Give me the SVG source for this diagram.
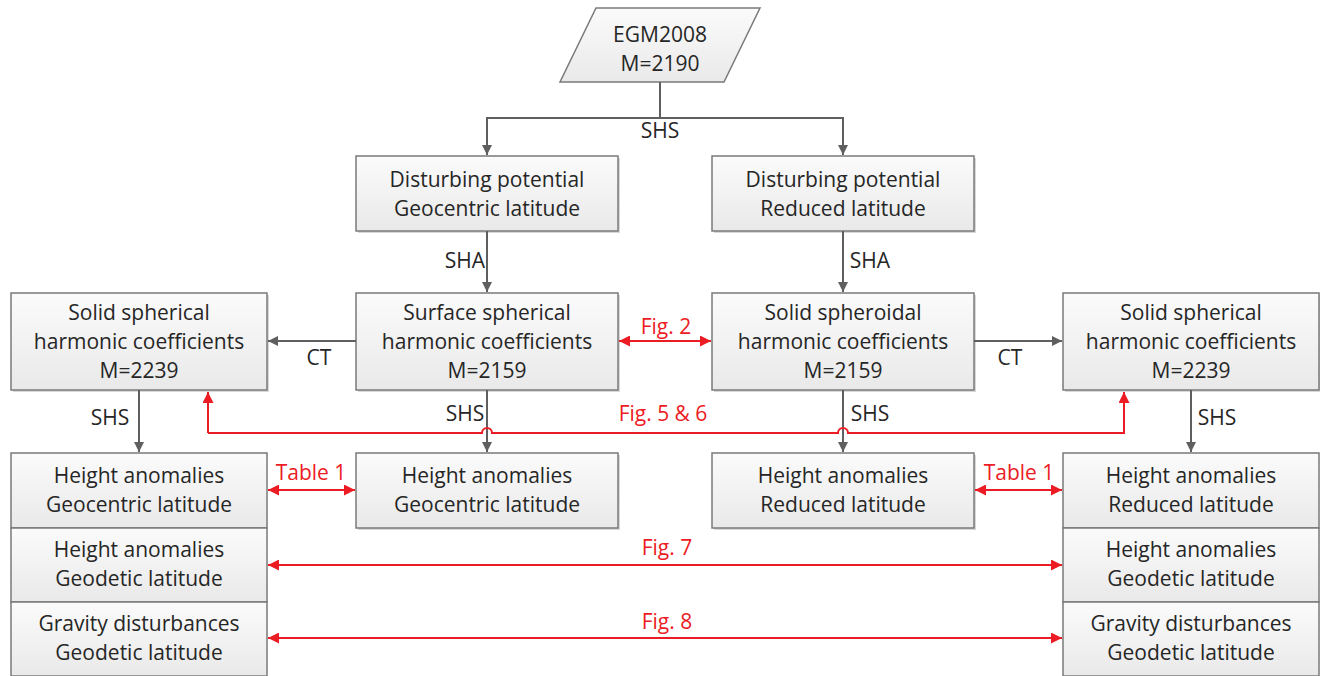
<svg xmlns="http://www.w3.org/2000/svg" width="1320" height="676" viewBox="0 0 1320 676">
<defs>
<linearGradient id="g" x1="0" y1="0" x2="0" y2="1">
<stop offset="0" stop-color="#fbfbfb"/>
<stop offset="1" stop-color="#e9e9e9"/>
</linearGradient>
<marker id="ag" viewBox="0 0 10 10" refX="10" refY="5" markerWidth="10" markerHeight="10" markerUnits="userSpaceOnUse" orient="auto-start-reverse">
<path d="M0,0 L10,5 L0,10 Z" fill="#5f5f5f"/>
</marker>
<marker id="ar" viewBox="0 0 10 10" refX="10" refY="5" markerWidth="11" markerHeight="11" markerUnits="userSpaceOnUse" orient="auto-start-reverse">
<path d="M0,0 L10,5 L0,10 Z" fill="#ec1c24"/>
</marker>
</defs>
<style>
.b{fill:url(#g);stroke:#7a7a7a;stroke-width:1.5}
.s{fill:#d8d8d8}
text{font-family:"Open Sans","Noto Sans",sans-serif;font-size:21px;fill:#262626;text-anchor:middle}
.r{fill:#ec1c24}
.cg{stroke:#5f5f5f;stroke-width:2;fill:none}
.cr{stroke:#ec1c24;stroke-width:2;fill:none}
</style>
<rect width="1320" height="676" fill="#fff"/>

<g id="egm">
<polygon points="596,8 760,8 724,82 560,82" class="b"/>
<text x="660" y="42">EGM2008</text>
<text x="660" y="71">M=2190</text>
</g>

<g id="dp_geo"><rect x="358" y="158" width="262" height="75" class="s"/><rect x="356" y="156" width="262" height="75" class="b"/>
<text x="487" y="187">Disturbing potential</text><text x="487" y="216">Geocentric latitude</text></g>
<g id="dp_red"><rect x="714" y="158" width="262" height="75" class="s"/><rect x="712" y="156" width="262" height="75" class="b"/>
<text x="843" y="187">Disturbing potential</text><text x="843" y="216">Reduced latitude</text></g>

<g id="solid_l"><rect x="13" y="295" width="256" height="97" class="s"/><rect x="11" y="293" width="256" height="97" class="b"/>
<text x="139" y="320">Solid spherical</text><text x="139" y="349">harmonic coefficients</text><text x="139" y="378">M=2239</text></g>
<g id="surface"><rect x="358" y="295" width="262" height="97" class="s"/><rect x="356" y="293" width="262" height="97" class="b"/>
<text x="487" y="320">Surface spherical</text><text x="487" y="349">harmonic coefficients</text><text x="487" y="378">M=2159</text></g>
<g id="spheroidal"><rect x="714" y="295" width="262" height="97" class="s"/><rect x="712" y="293" width="262" height="97" class="b"/>
<text x="843" y="320">Solid spheroidal</text><text x="843" y="349">harmonic coefficients</text><text x="843" y="378">M=2159</text></g>
<g id="solid_r"><rect x="1065" y="295" width="256" height="97" class="s"/><rect x="1063" y="293" width="256" height="97" class="b"/>
<text x="1191" y="320">Solid spherical</text><text x="1191" y="349">harmonic coefficients</text><text x="1191" y="378">M=2239</text></g>

<g id="ha_geo_l"><rect x="11" y="453" width="256" height="75" class="b"/>
<text x="139" y="483">Height anomalies</text><text x="139" y="512">Geocentric latitude</text></g>
<g id="ha_gd_l"><rect x="11" y="528" width="256" height="74" class="b"/>
<text x="139" y="557">Height anomalies</text><text x="139" y="586">Geodetic latitude</text></g>
<g id="gd_gd_l"><rect x="11" y="602" width="256" height="74" class="b"/>
<text x="139" y="631">Gravity disturbances</text><text x="139" y="660">Geodetic latitude</text></g>

<g id="ha_geo_m"><rect x="358" y="455" width="262" height="75" class="s"/><rect x="356" y="453" width="262" height="75" class="b"/>
<text x="487" y="483">Height anomalies</text><text x="487" y="512">Geocentric latitude</text></g>
<g id="ha_red_m"><rect x="714" y="455" width="262" height="75" class="s"/><rect x="712" y="453" width="262" height="75" class="b"/>
<text x="843" y="483">Height anomalies</text><text x="843" y="512">Reduced latitude</text></g>

<g id="ha_red_r"><rect x="1063" y="453" width="256" height="75" class="b"/>
<text x="1191" y="483">Height anomalies</text><text x="1191" y="512">Reduced latitude</text></g>
<g id="ha_gd_r"><rect x="1063" y="528" width="256" height="74" class="b"/>
<text x="1191" y="557">Height anomalies</text><text x="1191" y="586">Geodetic latitude</text></g>
<g id="gd_gd_r"><rect x="1063" y="602" width="256" height="74" class="b"/>
<text x="1191" y="631">Gravity disturbances</text><text x="1191" y="660">Geodetic latitude</text></g>

<g id="connectors">
<path class="cg" d="M660,82 V118"/>
<path class="cg" d="M660,118 H487 V155" marker-end="url(#ag)"/>
<path class="cg" d="M660,118 H843 V155" marker-end="url(#ag)"/>
<text x="660" y="138">SHS</text>
<path class="cg" d="M487,231 V292" marker-end="url(#ag)"/>
<text x="465" y="268">SHA</text>
<path class="cg" d="M843,231 V292" marker-end="url(#ag)"/>
<text x="870" y="268">SHA</text>
<path class="cg" d="M356,341 H268" marker-end="url(#ag)"/>
<text x="319" y="365">CT</text>
<path class="cg" d="M974,341 H1062" marker-end="url(#ag)"/>
<text x="1010" y="365">CT</text>
<path class="cg" d="M139,390 V452" marker-end="url(#ag)"/>
<text x="110" y="425">SHS</text>
<path class="cg" d="M487,390 V452" marker-end="url(#ag)"/>
<text x="465" y="421">SHS</text>
<path class="cg" d="M843,390 V452" marker-end="url(#ag)"/>
<text x="870" y="421">SHS</text>
<path class="cg" d="M1191,390 V452" marker-end="url(#ag)"/>
<text x="1217" y="425">SHS</text>

<path class="cr" d="M208,433 V392" marker-end="url(#ar)"/>
<path class="cr" d="M208,433 H482 A5,5 0 0 1 492,433 H838 A5,5 0 0 1 848,433 H1124 V392" marker-end="url(#ar)"/>
<text x="663" y="421" class="r">Fig. 5 &amp; 6</text>
<path class="cr" d="M619,341 H711" marker-start="url(#ar)" marker-end="url(#ar)"/>
<text x="666" y="334" class="r">Fig. 2</text>
<path class="cr" d="M268,490 H355" marker-start="url(#ar)" marker-end="url(#ar)"/>
<text x="311" y="480" class="r">Table 1</text>
<path class="cr" d="M975,490 H1062" marker-start="url(#ar)" marker-end="url(#ar)"/>
<text x="1019" y="480" class="r">Table 1</text>
<path class="cr" d="M268,565 H1062" marker-start="url(#ar)" marker-end="url(#ar)"/>
<text x="667" y="555" class="r">Fig. 7</text>
<path class="cr" d="M268,638 H1062" marker-start="url(#ar)" marker-end="url(#ar)"/>
<text x="667" y="629" class="r">Fig. 8</text>
</g>
</svg>
